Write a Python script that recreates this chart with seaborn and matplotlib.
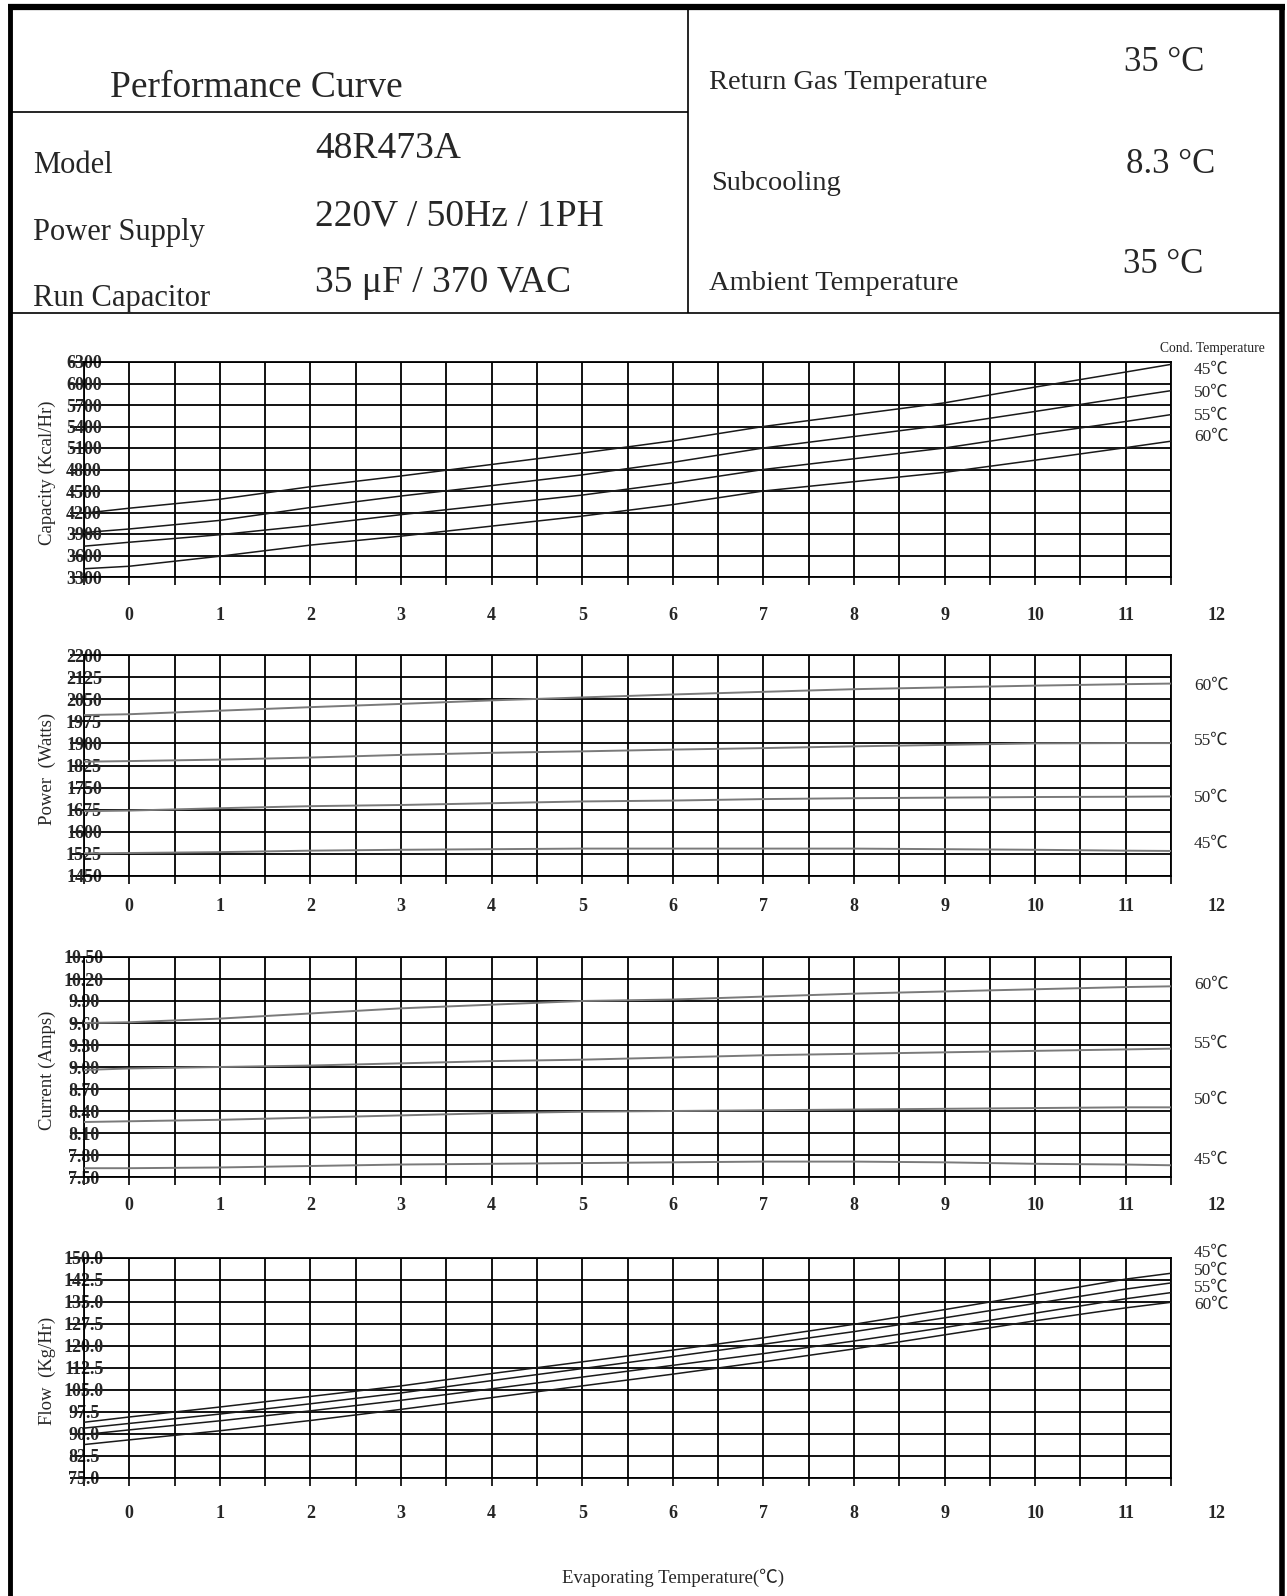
import matplotlib
matplotlib.use("Agg")
import matplotlib.pyplot as plt
import seaborn as sns
import pandas as pd
import numpy as np
from matplotlib.lines import Line2D
from matplotlib.transforms import blended_transform_factory

# ---------------- data ----------------
evap_temp = [-0.5, 0, 1, 2, 3, 4, 5, 6, 7, 8, 9, 10, 11, 11.5]
cond_labels = ["45℃", "50℃", "55℃", "60℃"]

capacity_45 = [4190, 4260, 4385, 4560, 4710, 4870, 5030, 5200, 5400, 5565, 5730, 5950, 6160, 6267]
capacity_50 = [3920, 3970, 4090, 4270, 4430, 4575, 4725, 4900, 5100, 5260, 5420, 5610, 5805, 5900]
capacity_55 = [3730, 3785, 3890, 4020, 4170, 4308, 4443, 4610, 4800, 4950, 5100, 5290, 5470, 5566]
capacity_60 = [3415, 3450, 3590, 3745, 3870, 4010, 4150, 4310, 4500, 4630, 4760, 4930, 5105, 5195]

power_45 = [1527, 1528, 1531, 1536, 1539, 1541, 1543, 1543, 1543, 1543, 1541, 1539, 1536, 1535]
power_50 = [1670, 1672, 1680, 1687, 1691, 1697, 1703, 1706, 1711, 1714, 1716, 1718, 1719, 1720]
power_55 = [1838, 1840, 1845, 1852, 1861, 1868, 1873, 1879, 1884, 1890, 1895, 1900, 1901, 1901]
power_60 = [1996, 1999, 2011, 2023, 2034, 2046, 2056, 2066, 2075, 2084, 2090, 2096, 2101, 2103]

current_45 = [7.62, 7.62, 7.63, 7.65, 7.67, 7.68, 7.69, 7.70, 7.71, 7.71, 7.70, 7.68, 7.67, 7.66]
current_50 = [8.25, 8.26, 8.28, 8.31, 8.34, 8.37, 8.39, 8.40, 8.41, 8.42, 8.43, 8.44, 8.45, 8.45]
current_55 = [8.96, 8.98, 9.00, 9.02, 9.05, 9.08, 9.10, 9.13, 9.16, 9.18, 9.20, 9.22, 9.24, 9.25]
current_60 = [9.60, 9.61, 9.66, 9.73, 9.80, 9.85, 9.90, 9.92, 9.96, 10.00, 10.03, 10.06, 10.09, 10.10]

flow_45 = [94.0, 95.8, 99.2, 102.8, 106.4, 110.6, 114.6, 118.6, 122.8, 127.4, 132.4, 137.6, 142.8, 144.8]
flow_50 = [92.0, 93.6, 96.8, 100.3, 104.0, 108.2, 112.3, 116.4, 120.6, 124.9, 129.6, 134.5, 139.4, 141.5]
flow_55 = [89.8, 91.4, 94.5, 97.9, 101.5, 105.4, 109.4, 113.4, 117.4, 121.7, 126.3, 131.2, 136.1, 138.2]
flow_60 = [86.4, 88.0, 91.1, 94.6, 98.4, 102.4, 106.4, 110.4, 114.6, 119.0, 123.8, 128.6, 133.0, 134.9]

x_tick_labels = ["0", "1", "2", "3", "4", "5", "6", "7", "8", "9", "10", "11", "12"]
capacity_ticks = [3300, 3600, 3900, 4200, 4500, 4800, 5100, 5400, 5700, 6000, 6300]
power_ticks = [1450, 1525, 1600, 1675, 1750, 1825, 1900, 1975, 2050, 2125, 2200]
current_ticks = [7.50, 7.80, 8.10, 8.40, 8.70, 9.00, 9.30, 9.60, 9.90, 10.20, 10.50]
flow_ticks = [75.0, 82.5, 90.0, 97.5, 105.0, 112.5, 120.0, 127.5, 135.0, 142.5, 150.0]
capacity_ticklabels = ["3300", "3600", "3900", "4200", "4500", "4800", "5100", "5400", "5700", "6000", "6300"]
power_ticklabels = ["1450", "1525", "1600", "1675", "1750", "1825", "1900", "1975", "2050", "2125", "2200"]
current_ticklabels = ["7.50", "7.80", "8.10", "8.40", "8.70", "9.00", "9.30", "9.60", "9.90", "10.20", "10.50"]
flow_ticklabels = ["75.0", "82.5", "90.0", "97.5", "105.0", "112.5", "120.0", "127.5", "135.0", "142.5", "150.0"]

# ---------------- style ----------------
sns.set_theme(style="white")
plt.rcParams["font.family"] = ["Liberation Serif", "Noto Sans CJK SC", "DejaVu Sans"]
plt.rcParams["axes.unicode_minus"] = False
SERIF = ["Liberation Serif", "Noto Sans CJK SC", "DejaVu Sans"]

W, H = 1287, 1596
fig = plt.figure(figsize=(W / 100, H / 100), dpi=100)
fig.patch.set_facecolor("white")


def fx(px):
    return px / W


def fy(py):
    return 1 - py / H


def hline(y, x0, x1, lw):
    fig.add_artist(Line2D([fx(x0), fx(x1)], [fy(y), fy(y)], color="black", lw=lw,
                          transform=fig.transFigure, solid_capstyle="butt"))


def vline(x, y0, y1, lw):
    fig.add_artist(Line2D([fx(x), fx(x)], [fy(y0), fy(y1)], color="black", lw=lw,
                          transform=fig.transFigure, solid_capstyle="butt"))


# ---------------- frame / header ----------------
hline(7, 8, 1285, 4.5)
vline(10, 5, 1596, 3.5)
vline(1282, 5, 1596, 4.0)
vline(688, 7, 313, 1.2)
hline(112, 10, 688, 1.2)
hline(313, 10, 1282, 1.2)

fig.text(fx(110), fy(97), "Performance Curve", fontsize=27, va="baseline", ha="left", family=SERIF)
fig.text(fx(33), fy(173), "Model", fontsize=22, va="baseline", ha="left", family=SERIF)
fig.text(fx(33), fy(240), "Power Supply", fontsize=22, va="baseline", ha="left", family=SERIF)
fig.text(fx(33), fy(306), "Run Capacitor", fontsize=22, va="baseline", ha="left", family=SERIF)
fig.text(fx(315), fy(158), "48R473A", fontsize=27, va="baseline", ha="left", family=SERIF)
fig.text(fx(315), fy(225), "220V / 50Hz / 1PH", fontsize=27, va="baseline", ha="left", family=SERIF)
fig.text(fx(315), fy(292), "35 μF / 370 VAC", fontsize=27, va="baseline", ha="left", family=SERIF)
fig.text(fx(709), fy(89), "Return Gas Temperature", fontsize=20.5, va="baseline", ha="left", family=SERIF)
fig.text(fx(711), fy(190), "Subcooling", fontsize=20.5, va="baseline", ha="left", family=SERIF)
fig.text(fx(709), fy(290), "Ambient Temperature", fontsize=20.5, va="baseline", ha="left", family=SERIF)
fig.text(fx(1124), fy(71), "35 °C", fontsize=25, va="baseline", ha="left", family=SERIF)
fig.text(fx(1126), fy(173), "8.3 °C", fontsize=25, va="baseline", ha="left", family=SERIF)
fig.text(fx(1123), fy(273), "35 °C", fontsize=25, va="baseline", ha="left", family=SERIF)

# ---------------- panels ----------------
LEFT, RIGHT = 84, 1171
panels = [
    dict(top=362, bottom=577, series=[capacity_45, capacity_50, capacity_55, capacity_60],
         ticks=capacity_ticks, ticklabels=capacity_ticklabels, ylabel="Capacity (Kcal/Hr)",
         label_y=[370, 393, 416, 437], xlab_y=615, color="#1a1a1a", lw=1.1),
    dict(top=655, bottom=876, series=[power_45, power_50, power_55, power_60],
         ticks=power_ticks, ticklabels=power_ticklabels, ylabel="Power  (Watts)",
         label_y=[844, 798, 741, 686], xlab_y=906, color="#7a7a7a", lw=1.4),
    dict(top=957, bottom=1177, series=[current_45, current_50, current_55, current_60],
         ticks=current_ticks, ticklabels=current_ticklabels, ylabel="Current (Amps)",
         label_y=[1160, 1100, 1044, 985], xlab_y=1206, color="#7a7a7a", lw=1.4),
    dict(top=1258, bottom=1478, series=[flow_45, flow_50, flow_55, flow_60],
         ticks=flow_ticks, ticklabels=flow_ticklabels, ylabel="Flow  (Kg/Hr)",
         label_y=[1253, 1271, 1288, 1305], xlab_y=1513, color="#1a1a1a", lw=1.1),
]

for p in panels:
    ax = fig.add_axes([fx(LEFT), fy(p["bottom"]), fx(RIGHT) - fx(LEFT),
                       (p["bottom"] - p["top"]) / H])
    rows = []
    for lab, vals in zip(cond_labels, p["series"]):
        for x, v in zip(evap_temp, vals):
            rows.append({"evap": x, "value": v, "cond": lab})
    df = pd.DataFrame(rows)
    sns.lineplot(data=df, x="evap", y="value", hue="cond",
                 palette=[p["color"]] * 4, legend=False, lw=p["lw"], ax=ax, zorder=3)
    ax.set_xlim(-0.5, 11.5)
    ax.set_ylim(p["ticks"][0], p["ticks"][-1])
    ax.set_xticks(np.arange(-0.5, 11.51, 0.5))
    ax.set_xticklabels([])
    ax.set_yticks(p["ticks"])
    ax.set_yticklabels(p["ticklabels"], fontsize=13, fontweight="bold", family=SERIF)
    for t in ax.get_yticklabels():
        t.set_horizontalalignment("center")
    ax.tick_params(axis="x", bottom=True, direction="out", length=6, width=1.2, color="black")
    ax.tick_params(axis="y", left=True, direction="out", length=10, width=1.3,
                   color="black", pad=-10)
    ax.grid(True, color="black", lw=1.3)
    ax.set_axisbelow(True)
    for s in ax.spines.values():
        s.set_color("black")
        s.set_linewidth(1.3)
    ax.set_xlabel("")
    ax.set_ylabel("")
    ax.set_facecolor("white")
    # bottom tick labels (12 sits outside the plotting range)
    tr = blended_transform_factory(ax.transData, fig.transFigure)
    for i, lab in enumerate(x_tick_labels):
        ax.text(i, fy(p["xlab_y"]), lab, transform=tr, ha="center", va="center",
                fontsize=13, fontweight="bold", clip_on=False, family=SERIF)
    # y axis title
    fig.text(fx(47), fy((p["top"] + p["bottom"]) / 2 + 3), p["ylabel"], rotation=90,
             ha="center", va="center", fontsize=13.5, family=SERIF)
    # condensing temperature labels
    for lab, yy in zip(cond_labels, p["label_y"]):
        fig.text(fx(1194), fy(yy), lab, ha="left", va="center", fontsize=12.5, family=SERIF)

# header of the condensing temperature column (kept inside the frame)
fig.text(fx(1160), fy(352), "Cond. Temperature", ha="left", va="baseline",
         fontsize=9.8, family=SERIF)

fig.text(fx(673), fy(1583), "Evaporating Temperature(℃)", ha="center", va="baseline",
         fontsize=13.5, family=SERIF)

fig.savefig("out.png", dpi=100, facecolor="white")
